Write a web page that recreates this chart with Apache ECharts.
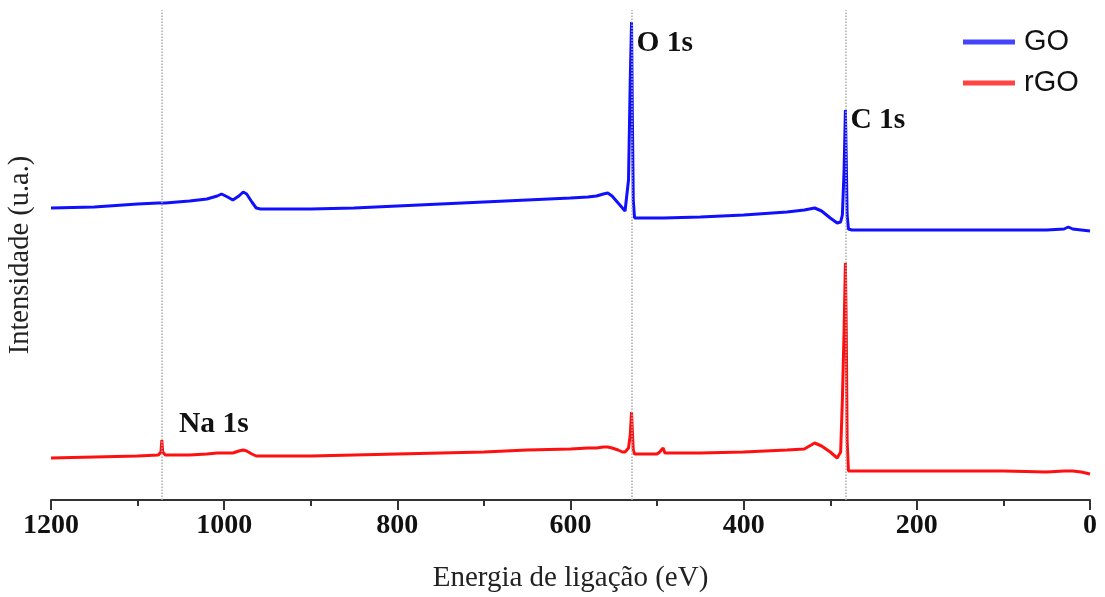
<!DOCTYPE html>
<html>
<head>
<meta charset="utf-8">
<script src="https://cdn.jsdelivr.net/npm/echarts@6/dist/echarts.min.js"></script>
<style>
html,body{margin:0;padding:0;background:#fff;}
#chart{width:1105px;height:597px;}
</style>
</head>
<body>
<div id="chart"></div>
<script>
// Binding energy (eV), shared by both spectra
var energy = [1200,1150,1100,1076,1073,1072,1071,1068,1040,1020,1008,1003,996,990,983,978,974,968,963,958,900,850,800,750,700,650,600,580,570,562,557,552,545,540,537,535,533,531,529.5,528.5,527.5,526,520,500,497,493,491,450,400,350,330,318,310,300,292,288,286,284,282.5,281.5,280.5,279,275,250,200,150,100,50,30,25,20,10,0];
// Intensity (a.u.), GO spectrum (offset upward)
var goIntensity = [289,290,293,294,294,294,294,294,296,298,301,303,300,297,301,305,303,295,289,288,288,289,291,293,295,297,299,300,301,303,304,301,294,289,286,284,317,417,475,377,297,279,279,279,279,279,279,280,282,285,287,289,286,279,274,275,282,327,387,337,282,268,267,267,267,267,267,267,268,270,268,267,266];
// Intensity (a.u.), rGO spectrum
var rgoIntensity = [39,40,41,42,45,57,45,42,42,43,44,44,44,44,46,47,46,43,41,41,41,42,43,44,45,47,48,49,49,50,50,49,47,45,45,45,49,62,85,65,47,43,43,43,45,49,44,44,45,47,48,54,51,45,39,45,97,167,234,167,57,26,26,26,26,26,26,25,26,26,26,25,23];
// Dotted reference lines at the main peaks (eV)
var peakLines = [1072, 529.5, 282.5];
// Peak names and where they sit (eV, intensity)
var peakNames = ['O 1s', 'C 1s', 'Na 1s'];
var peakAnchors = [[529.5, 454], [282.5, 377], [1058, 73]];
var xTicks = {min:0, max:1200, interval:200};

function pairs(xs, ys){ return xs.map(function(x,i){return [x, ys[i]];}); }

var chart = echarts.init(document.getElementById('chart'));
var serif = '"Liberation Serif","Times New Roman",serif';
var option = {
  backgroundColor:'#fff',
  animation:false,
  grid:{left:51, right:15, top:10, bottom:97, containLabel:false, outerBoundsMode:'none'},
  legend:{
    orient:'vertical', left:958, top:22, itemWidth:52, itemHeight:5, itemGap:11,
    icon:'rect',
    textStyle:{fontFamily:'"Liberation Sans",Arial,sans-serif', fontSize:29, color:'#111', lineHeight:30, padding:[0,0,0,4]},
    data:['GO','rGO']
  },
  xAxis:{
    type:'value', inverse:true, min:xTicks.min, max:xTicks.max, interval:xTicks.interval,
    name:'Energia de ligação (eV)', nameLocation:'middle', nameGap:64,
    nameTextStyle:{fontFamily:serif, fontSize:29, color:'#222'},
    axisLine:{show:true, onZero:false, lineStyle:{color:'#333', width:2}},
    axisTick:{show:true, length:10, lineStyle:{color:'#333', width:2}},
    minorTick:{show:true, splitNumber:2, length:6, lineStyle:{color:'#333', width:2}},
    axisLabel:{fontFamily:serif, fontSize:28, fontWeight:'bold', color:'#111', margin:12,
               formatter:function(v){return String(v);}},
    splitLine:{show:false}
  },
  yAxis:{
    type:'value', min:-3, max:487,
    name:'Intensidade (u.a.)', nameLocation:'middle', nameGap:16, nameRotate:90,
    nameTextStyle:{fontFamily:serif, fontSize:28.5, color:'#222'},
    axisLine:{show:false}, axisTick:{show:false}, axisLabel:{show:false}, splitLine:{show:false}
  },
  series:[
    {
      name:'GO', type:'line', data:pairs(energy, goIntensity), showSymbol:false, symbol:'none',
      lineStyle:{color:'#1010ff', width:3}, itemStyle:{color:'#4444ff'}, z:3,
      markLine:{
        silent:true, symbol:'none', label:{show:false},
        lineStyle:{color:'#aaa', type:'dotted', width:1.5},
        data:peakLines.map(function(e){return {xAxis:e};})
      },
      markPoint:{
        symbol:'circle', symbolSize:0, silent:true,
        data:peakNames.map(function(n,i){return {coord:peakAnchors[i], value:n};}),
        label:{show:true, position:'right', distance:5, formatter:function(d){return d.value;},
               fontFamily:serif, fontSize:29.5, fontWeight:'bold', color:'#111'}
      }
    },
    {
      name:'rGO', type:'line', data:pairs(energy, rgoIntensity), showSymbol:false, symbol:'none',
      lineStyle:{color:'#ff1010', width:3}, itemStyle:{color:'#ff4444'}, z:3
    }
  ]
};
chart.setOption(option);
</script>
</body>
</html>
